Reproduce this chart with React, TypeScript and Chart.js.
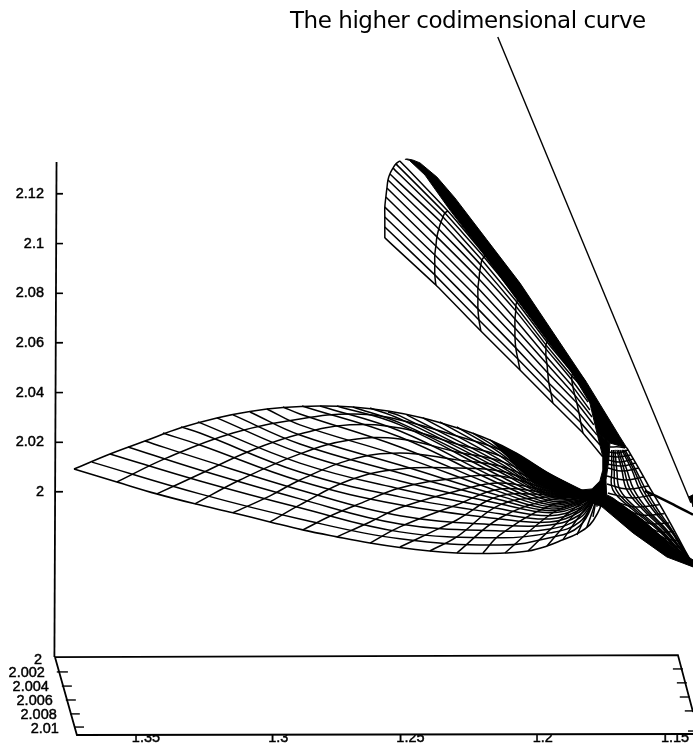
import React, { useEffect, useRef } from "react";
import { Chart, registerables } from "chart.js";

Chart.register(...registerables);

type Pair = number[];

// Axis ticks
const heightTicks = [2, 2.02, 2.04, 2.06, 2.08, 2.1, 2.12];
const paramTicks = [1.35, 1.3, 1.25, 1.2, 1.15];
const depthLabels = ["2", "2.002", "2.004", "2.006", "2.008", "2.01"];
const depthLabelAnchors: Pair[] = [[1.3893, 1.9323], [1.3882, 1.9271], [1.3867, 1.9214], [1.3852, 1.9158], [1.3837, 1.9102], [1.3829, 1.9045]];

// Annotation
const annotationText = "The higher codimensional curve";
const annotationAnchor: Pair = [1.2283, 2.1892];
const arrowShaft: Pair[] = [[1.217, 2.1832], [1.144, 1.9956]];
const arrowHead: Pair[] = [[1.1448, 1.998], [1.1432, 1.9988], [1.1432, 1.994]];
const codimCurve: Pair[] = [[1.1614, 2.0004], [1.1557, 1.9976], [1.1497, 1.9944], [1.1432, 1.9908]];

// Box
const heightAxisLine: Pair[] = [[1.3838, 2.1329], [1.3846, 1.9335]];
const heightTickStart = 1.384;
const heightTickEnd = 1.3814;
const floorBack: Pair[] = [[1.3844, 1.9335], [1.1489, 1.9343], [1.1432, 1.9114]];
const floorFront: Pair[] = [[1.3844, 1.9335], [1.3761, 1.9021], [1.1432, 1.9025]];
const floorTicksLeft: Pair[][] = [
  [[1.3837, 1.9275], [1.3795, 1.9275]], [[1.3818, 1.9218], [1.378, 1.9218]], [[1.3803, 1.9162], [1.3765, 1.9162]],
  [[1.3787, 1.9106], [1.375, 1.9106]], [[1.3772, 1.9053], [1.3734, 1.9053]],
];
const floorTicksRight: Pair[][] = [
  [[1.1508, 1.9287], [1.147, 1.9287]], [[1.1493, 1.9231], [1.1455, 1.9231]], [[1.1482, 1.9174], [1.1444, 1.9174]],
  [[1.1463, 1.9118], [1.1432, 1.9118]], [[1.1451, 1.9037], [1.1432, 1.9037]],
];

// Lower sheet
const lensPinch: Pair = [1.1795, 1.9988];
const lensTopEdge: Pair[] = [[1.3772, 2.0092], [1.3636, 2.0153], [1.3504, 2.0205], [1.3368, 2.0258], [1.3232, 2.0298], [1.3107, 2.0324], [1.2982, 2.034], [1.2842, 2.0346], [1.2718, 2.0342], [1.2585, 2.0326], [1.2453, 2.0298], [1.2325, 2.0258], [1.22, 2.0209], [1.2098, 2.0155], [1.1973, 2.0072], [1.186, 2.0008]];
const lensBottomEdge: Pair[] = [[1.3772, 2.0092], [1.361, 2.004], [1.3459, 1.9992], [1.3315, 1.9952], [1.3171, 1.9916], [1.3031, 1.9879], [1.2907, 1.9847], [1.2778, 1.9819], [1.2653, 1.9794], [1.254, 1.9776], [1.2427, 1.9762], [1.2325, 1.9754], [1.2226, 1.9752], [1.2143, 1.9754], [1.2056, 1.9762], [1.1984, 1.9782], [1.1924, 1.9807], [1.1871, 1.9831], [1.1822, 1.9867], [1.1792, 1.9916], [1.178, 1.9948], [1.1784, 1.998]];
const lensFalling: Pair[][] = [
  [[1.3704, 2.012], [1.3296, 1.9992], [1.2918, 1.9891], [1.254, 1.9811], [1.2162, 1.9786], [1.1973, 1.9815], [1.186, 1.9863]],
  [[1.3636, 2.0153], [1.3296, 2.0044], [1.2918, 1.9936], [1.254, 1.9839], [1.2162, 1.9815], [1.1973, 1.9835], [1.186, 1.9879]],
  [[1.3568, 2.0181], [1.3296, 2.0088], [1.2918, 1.9972], [1.254, 1.9871], [1.2162, 1.9843], [1.1973, 1.9851], [1.186, 1.9895]],
  [[1.3504, 2.0205], [1.3296, 2.0133], [1.2918, 2.0008], [1.254, 1.9904], [1.2162, 1.9867], [1.1973, 1.9867], [1.186, 1.9908]],
  [[1.3436, 2.0237], [1.3296, 2.0189], [1.2918, 2.0044], [1.254, 1.9948], [1.2162, 1.9891], [1.1973, 1.9879], [1.186, 1.992]],
  [[1.3368, 2.0262], [1.3296, 2.0237], [1.2918, 2.008], [1.254, 1.998], [1.2162, 1.9912], [1.1973, 1.9891], [1.186, 1.9928]],
  [[1.3304, 2.0282], [1.2918, 2.0116], [1.254, 2.0012], [1.2162, 1.9932], [1.1973, 1.9904], [1.186, 1.9936]],
  [[1.3232, 2.0298], [1.2918, 2.0157], [1.254, 2.0044], [1.2162, 1.9952], [1.1973, 1.9916], [1.186, 1.9944]],
  [[1.3171, 2.031], [1.2918, 2.0193], [1.254, 2.0076], [1.2162, 1.9968], [1.1973, 1.9924], [1.186, 1.9952]],
  [[1.3107, 2.0322], [1.2918, 2.0229], [1.254, 2.0108], [1.2162, 1.9984], [1.1973, 1.9932], [1.186, 1.9956]],
  [[1.3043, 2.0334], [1.2918, 2.027], [1.254, 2.0145], [1.2162, 2.0], [1.1973, 1.994], [1.186, 1.996]],
  [[1.2982, 2.0342], [1.2918, 2.0314], [1.254, 2.0181], [1.2162, 2.0016], [1.1973, 1.9948], [1.186, 1.9964]],
  [[1.291, 2.0346], [1.254, 2.0221], [1.2162, 2.0032], [1.1973, 1.9956], [1.186, 1.9968]],
  [[1.2842, 2.0346], [1.254, 2.0245], [1.2162, 2.0048], [1.1973, 1.9964], [1.186, 1.9972]],
  [[1.2778, 2.0346], [1.254, 2.027], [1.2162, 2.0064], [1.1973, 1.9972], [1.186, 1.9976]],
  [[1.2718, 2.0342], [1.254, 2.0278], [1.2162, 2.008], [1.1973, 1.998], [1.186, 1.998]],
  [[1.2653, 2.0338], [1.254, 2.0294], [1.2162, 2.0092], [1.1973, 1.9984], [1.186, 1.9984]],
  [[1.2585, 2.0322], [1.254, 2.0306], [1.2162, 2.0104], [1.1973, 1.9988], [1.186, 1.9984]],
  [[1.2514, 2.031], [1.2162, 2.0116], [1.1973, 1.9992]],
  [[1.2453, 2.0298], [1.2162, 2.0129], [1.1973, 1.9996]],
  [[1.2389, 2.0282], [1.2162, 2.0145], [1.1973, 2.0]],
  [[1.2325, 2.0262], [1.2162, 2.0157], [1.1973, 2.0004]],
  [[1.2264, 2.0237], [1.2162, 2.0169], [1.1973, 2.0008]],
  [[1.22, 2.0209], [1.2162, 2.0181], [1.1973, 2.0012]],
  [[1.2151, 2.0181], [1.1973, 2.002]],
  [[1.2098, 2.0149], [1.1973, 2.0032]],
  [[1.2037, 2.0108], [1.1973, 2.0044]],
];
const lensRising: Pair[][] = [
  [[1.361, 2.004], [1.3421, 2.0137], [1.3171, 2.0237], [1.2918, 2.0294], [1.271, 2.0314], [1.254, 2.029], [1.2325, 2.0225], [1.2162, 2.0169], [1.1973, 2.0052]],
  [[1.3459, 1.9992], [1.3296, 2.0072], [1.3107, 2.0165], [1.2918, 2.0233], [1.2729, 2.027], [1.254, 2.0257], [1.2325, 2.0193], [1.2162, 2.0145], [1.1973, 2.0044]],
  [[1.3315, 1.9952], [1.3145, 2.0048], [1.2918, 2.0153], [1.2729, 2.0209], [1.254, 2.0213], [1.2325, 2.0161], [1.2162, 2.0125], [1.1973, 2.0036]],
  [[1.3171, 1.9916], [1.3031, 1.9984], [1.2918, 2.0048], [1.2729, 2.0129], [1.254, 2.0157], [1.2325, 2.0129], [1.2162, 2.0104], [1.1973, 2.0028]],
  [[1.3031, 1.9879], [1.2918, 1.9948], [1.2729, 2.0048], [1.254, 2.0092], [1.2325, 2.0096], [1.2162, 2.0084], [1.1973, 2.002]],
  [[1.2907, 1.9847], [1.2793, 1.9908], [1.2684, 1.9956], [1.254, 2.0016], [1.2325, 2.0056], [1.2162, 2.0064], [1.1973, 2.0012]],
  [[1.2778, 1.9819], [1.2653, 1.9879], [1.254, 1.9936], [1.2325, 2.0004], [1.2162, 2.0036], [1.1973, 2.0004]],
  [[1.2653, 1.9794], [1.254, 1.9859], [1.2325, 1.9948], [1.2162, 2.0012], [1.1973, 1.9996]],
  [[1.254, 1.9778], [1.2427, 1.9835], [1.2325, 1.9887], [1.2162, 1.9984], [1.1973, 1.9988]],
  [[1.2427, 1.9762], [1.2325, 1.9819], [1.2162, 1.9948], [1.1973, 1.998]],
  [[1.2325, 1.9754], [1.2162, 1.9895], [1.1973, 1.9968]],
  [[1.2226, 1.9754], [1.2162, 1.9827], [1.1973, 1.9944]],
  [[1.2143, 1.9754], [1.1973, 1.9908], [1.1879, 1.9956]],
  [[1.2056, 1.9762], [1.1973, 1.9847], [1.1879, 1.9936]],
  [[1.1984, 1.9782], [1.1916, 1.9867], [1.186, 1.9932]],
  [[1.1924, 1.9807], [1.186, 1.9904]],
  [[1.1871, 1.9827], [1.1829, 1.992]],
  [[1.1833, 1.9859], [1.181, 1.9928]],
  [[1.181, 1.9899]],
  [[1.1795, 1.994]],
];
const lensDarkCore: Pair[] = [[1.22, 2.0209], [1.2098, 2.0155], [1.1973, 2.0072], [1.1852, 2.0008], [1.1814, 2.0012], [1.1784, 2.0044], [1.1773, 2.0088], [1.1773, 2.0141], [1.1795, 2.0237], [1.1746, 2.0197], [1.175, 2.0129], [1.1761, 2.0048], [1.1757, 1.9948], [1.1776, 1.994], [1.1841, 1.9968], [1.1924, 1.9988], [1.2037, 2.004], [1.2124, 2.0129]];

// Upper sheet: one row per cross-section, one column per hatch line
const wingSections: Pair[][] = [
  [[1.2597, 2.1023], [1.2597, 2.1067], [1.2597, 2.1107], [1.2597, 2.1147], [1.2593, 2.1188], [1.2589, 2.1224], [1.2585, 2.1256], [1.2578, 2.128], [1.2566, 2.1304], [1.2555, 2.1321], [1.254, 2.1333]],
  [[1.2404, 2.0833], [1.2408, 2.0874], [1.2408, 2.0914], [1.2408, 2.0954], [1.2404, 2.099], [1.24, 2.1027], [1.2393, 2.1059], [1.2385, 2.1087], [1.2377, 2.1107], [1.237, 2.1123], [1.2359, 2.1131]],
  [[1.2234, 2.0648], [1.2241, 2.0692], [1.2245, 2.0737], [1.2245, 2.0781], [1.2245, 2.0821], [1.2241, 2.0857], [1.2238, 2.089], [1.2234, 2.0914], [1.223, 2.0934], [1.2222, 2.0946], [1.2219, 2.0954]],
  [[1.2086, 2.0491], [1.2094, 2.0535], [1.2102, 2.058], [1.2105, 2.0624], [1.2105, 2.066], [1.2105, 2.0696], [1.2102, 2.0729], [1.2102, 2.0749], [1.2098, 2.0765], [1.2094, 2.0777], [1.209, 2.0785]],
  [[1.1962, 2.0358], [1.1969, 2.0398], [1.1977, 2.0439], [1.1981, 2.0479], [1.1984, 2.0515], [1.1988, 2.0547], [1.1988, 2.0576], [1.1988, 2.0592], [1.1984, 2.0604], [1.1981, 2.0612], [1.1977, 2.062]],
  [[1.1848, 2.0237], [1.1856, 2.0278], [1.1863, 2.0318], [1.1871, 2.0358], [1.1879, 2.039], [1.1886, 2.0423], [1.189, 2.0451], [1.189, 2.0467], [1.1886, 2.0479], [1.1882, 2.0487], [1.1875, 2.0495]],
];
const wingHatchEnds: Pair[] = [[1.1773, 2.0141], [1.1784, 2.0189], [1.1795, 2.0229], [1.1807, 2.027], [1.1814, 2.0302], [1.1822, 2.033], [1.1829, 2.0362], [1.1833, 2.0402], [1.1837, 2.0419], [1.1837, 2.0431], [1.1837, 2.0443]];
const wingDarkBand: Pair[] = [[1.2521, 2.1339], [1.2514, 2.1341], [1.2492, 2.1337], [1.2464, 2.1325], [1.24, 2.1268], [1.2332, 2.1184], [1.2211, 2.1015], [1.2086, 2.0841], [1.1962, 2.0644], [1.1833, 2.0439], [1.1708, 2.0221], [1.1682, 2.0177], [1.1746, 2.0197], [1.1795, 2.0237], [1.1822, 2.0358], [1.189, 2.0479], [1.1984, 2.0612], [1.2105, 2.0785], [1.2226, 2.0962], [1.2351, 2.1135], [1.2445, 2.1276], [1.2502, 2.1333]];

// Fan to the right of the pinch
const fanFallHeights = [2.0169, 2.0088, 2.0008, 1.9928, 1.9847, 1.9766];
const fanFallParams = [
  [1.1739, 1.1739, 1.1735, 1.1659, 1.1565, 1.1489],
  [1.1733, 1.173, 1.1722, 1.165, 1.1559, 1.1487],
  [1.1727, 1.172, 1.1708, 1.164, 1.1553, 1.1485],
  [1.172, 1.1701, 1.1682, 1.1621, 1.1542, 1.1478],
  [1.1714, 1.1692, 1.1669, 1.1612, 1.1536, 1.1476],
  [1.1708, 1.1682, 1.1655, 1.1603, 1.1531, 1.1474],
  [1.1701, 1.1663, 1.1633, 1.1584, 1.1519, 1.147],
  [1.1695, 1.1655, 1.1621, 1.1575, 1.1515, 1.1468],
  [1.1689, 1.1648, 1.161, 1.1565, 1.1512, 1.1466],
];
const fanTip: Pair = [1.1432, 1.9706];
const fanCross: Pair[][] = [
  [[1.1746, 2.0181], [1.1708, 2.0181], [1.1689, 2.0177]],
  [[1.175, 2.0161], [1.1716, 2.0157], [1.1678, 2.0169]],
  [[1.1754, 2.0145], [1.1712, 2.0141], [1.1667, 2.0149]],
  [[1.1754, 2.0129], [1.1708, 2.012], [1.1655, 2.0133]],
  [[1.1754, 2.0112], [1.1705, 2.0104], [1.1648, 2.0116]],
  [[1.1754, 2.0096], [1.1701, 2.0084], [1.1636, 2.0096]],
  [[1.1757, 2.0064], [1.1693, 2.0048], [1.1618, 2.006]],
  [[1.1757, 2.0032], [1.1682, 2.0012], [1.1599, 2.0024]],
  [[1.1754, 1.9996], [1.1671, 1.9976], [1.158, 1.9988]],
  [[1.1742, 1.9968], [1.1655, 1.994], [1.1561, 1.9948]],
  [[1.1708, 1.9948], [1.1633, 1.9908], [1.1542, 1.9912]],
  [[1.1678, 1.9928], [1.1603, 1.9875], [1.1523, 1.9875]],
  [[1.1644, 1.9899], [1.1572, 1.9843], [1.1504, 1.9839]],
  [[1.1614, 1.9875], [1.1542, 1.9815], [1.1489, 1.9803]],
  [[1.158, 1.9843], [1.1516, 1.9791], [1.147, 1.977]],
  [[1.1546, 1.9815], [1.1489, 1.9766], [1.1455, 1.9746]],
];
const fanOuterEdge: Pair[] = [[1.1682, 2.0177], [1.1633, 2.0088], [1.1591, 2.0008], [1.1546, 1.9928], [1.1504, 1.9847], [1.1463, 1.9766], [1.1432, 1.9706]];
const fanDarkBand: Pair[] = [[1.1776, 1.994], [1.1659, 1.9835], [1.1531, 1.9738], [1.1432, 1.9698], [1.1432, 1.9726], [1.1508, 1.9778], [1.1621, 1.9887], [1.1735, 1.9976], [1.1757, 1.9988]];

const INK = "#000000";
const TICK_FONT = { family: "'Liberation Sans', Arial, sans-serif", size: 14.5 };

const stroke = (points: Pair[], borderWidth = 1.5, tension = 0.4) => ({
  data: points.map(([x, y]) => ({ x, y })),
  showLine: true,
  pointRadius: 0,
  borderColor: INK,
  borderWidth,
  tension,
  fill: false,
  clip: false,
});

const solid = (points: Pair[]) => ({
  data: points.map(([x, y]) => ({ x, y })),
  showLine: true,
  pointRadius: 0,
  borderColor: INK,
  borderWidth: 1,
  tension: 0,
  fill: "shape",
  backgroundColor: INK,
  clip: false,
});

const wingHatch = wingHatchEnds.map((end, k) => [...wingSections.map((row) => row[k]), end]);
const fanFall = fanFallParams.map((params) => [...params.map((x, i) => [x, fanFallHeights[i]]), fanTip]);
const heightTickMarks = heightTicks.map((v) => [[heightTickStart, v], [heightTickEnd, v]]);

const annotationPlugin = {
  id: "textAnnotations",
  afterDraw(chart: any) {
    const { ctx, scales } = chart;
    ctx.save();
    ctx.fillStyle = INK;
    ctx.strokeStyle = INK;
    ctx.lineWidth = 0.45;
    ctx.textBaseline = "middle";
    ctx.textAlign = "right";
    ctx.font = `${TICK_FONT.size}px ${TICK_FONT.family}`;
    depthLabels.forEach((label, i) => {
      const [x, y] = depthLabelAnchors[i];
      const px = scales.x.getPixelForValue(x);
      const py = scales.y.getPixelForValue(y);
      ctx.fillText(label, px, py);
      ctx.strokeText(label, px, py);
    });
    ctx.textAlign = "center";
    ctx.font = "23px 'DejaVu Sans', sans-serif";
    ctx.letterSpacing = "-0.45px";
    ctx.fillText(annotationText, scales.x.getPixelForValue(annotationAnchor[0]), scales.y.getPixelForValue(annotationAnchor[1]));
    ctx.restore();
  },
};

export default function App() {
  const ref = useRef<HTMLCanvasElement>(null);
  useEffect(() => {
    const chart = new Chart(ref.current as HTMLCanvasElement, {
      type: "scatter",
      data: {
        datasets: [
          ...[lensTopEdge, lensBottomEdge].map((l) => stroke(l, 1.6)),
          ...lensFalling.map((l) => stroke([...l, lensPinch])),
          ...lensRising.map((l) => stroke([...l, lensPinch])),
          solid(lensDarkCore),
          ...wingSections.map((l) => stroke(l, 1.5)),
          ...wingHatch.map((l) => stroke(l, 1.5, 0.1)),
          solid(wingDarkBand),
          ...fanFall.map((l) => stroke(l, 1.5)),
          ...fanCross.map((l) => stroke(l, 1.5)),
          stroke(fanOuterEdge, 1.6),
          solid(fanDarkBand),
          stroke(codimCurve, 2.5),
          stroke(arrowShaft, 1.4, 0),
          solid(arrowHead),
          stroke(heightAxisLine, 1.8, 0),
          ...heightTickMarks.map((l) => stroke(l, 1.4, 0)),
          stroke(floorBack, 1.8, 0),
          stroke(floorFront, 1.8, 0),
          ...floorTicksLeft.map((l) => stroke(l, 1.4, 0)),
          ...floorTicksRight.map((l) => stroke(l, 1.4, 0)),
        ],
      } as any,
      plugins: [annotationPlugin],
      options: {
        animation: false,
        responsive: false,
        events: [],
        plugins: { legend: { display: false }, tooltip: { enabled: false }, title: { display: false } },
        scales: {
          x: {
            type: "linear",
            reverse: true,
            min: 1.1432,
            max: 1.384,
            border: { display: false },
            grid: { display: false },
            afterBuildTicks: (s: any) => {
              s.ticks = paramTicks.map((value) => ({ value }));
            },
            afterFit: (s: any) => {
              s.height = 11;
              s.paddingLeft = 0;
              s.paddingRight = 0;
            },
            ticks: {
              color: INK,
              font: TICK_FONT,
              padding: -14,
              autoSkip: false,
              maxRotation: 0,
              textStrokeWidth: 0.45,
              textStrokeColor: INK,
              callback: (v: any) => String(v),
            },
          },
          y: {
            type: "linear",
            min: 1.9021,
            max: 2.1981,
            border: { display: false },
            grid: { drawOnChartArea: false, drawTicks: true, tickLength: -7, tickColor: INK, tickWidth: 1.25 },
            afterBuildTicks: (s: any) => {
              s.ticks = heightTicks.map((value) => ({ value }));
            },
            afterFit: (s: any) => {
              s.width = 56;
              s.paddingTop = 0;
              s.paddingBottom = 0;
            },
            ticks: {
              color: INK,
              font: TICK_FONT,
              padding: 19,
              autoSkip: false,
              textStrokeWidth: 0.45,
              textStrokeColor: INK,
              callback: (v: any) => String(v),
            },
          },
        },
      } as any,
    });
    return () => chart.destroy();
  }, []);
  return (
    <div style={{ position: "fixed", left: 0, top: 0, width: 693, height: 746, background: "#fff" }}>
      <canvas ref={ref} width={693} height={746} style={{ display: "block" }} />
    </div>
  );
}
